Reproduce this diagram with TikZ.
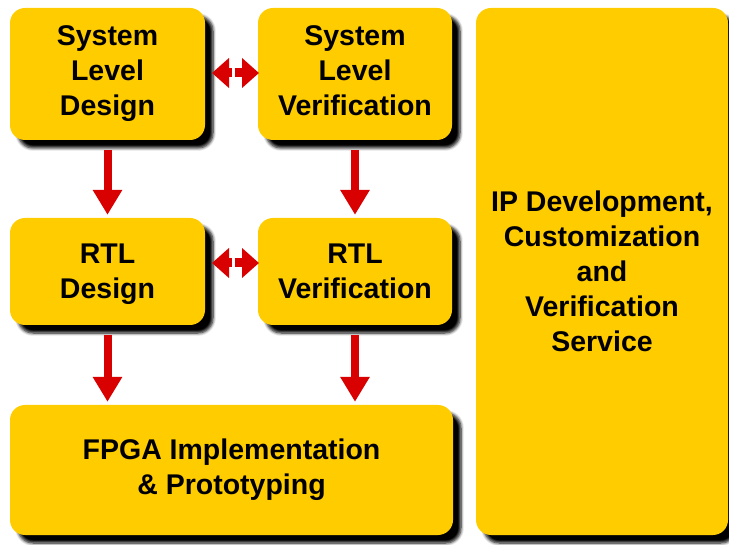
\documentclass[tikz,border=0pt]{standalone}
\usepackage{fontspec}
\setmainfont{Liberation Sans}
\usetikzlibrary{shadows.blur,arrows.meta}
\definecolor{boxyellow}{HTML}{FFCC00}
\definecolor{arrowred}{HTML}{D80000}
\newcommand{\nodepth}[1]{\raisebox{0pt}[\height][0pt]{#1}}
\begin{document}
\begin{tikzpicture}[x=1pt,y=-1pt,
  box/.style={fill=boxyellow, draw=none, rounded corners=15pt, align=center,
    font=\fontsize{28.5}{35}\selectfont\bfseries, inner sep=0pt,
    blur shadow={shadow xshift=8pt, shadow yshift=-8pt, shadow blur radius=3pt, shadow opacity=100, shadow blur steps=6}},
  varrow/.style={draw=arrowred, line width=8pt, -{Triangle[width=28pt,length=25pt]}},
  harrow/.style={draw=arrowred, line width=9pt, -{Triangle[width=29pt,length=17pt]}}]
\useasboundingbox (0,0) rectangle (729,545);
\node[box, minimum width=195pt, minimum height=132pt] (sld) at (107.5,74) {System\\Level\\Design};
\node[box, minimum width=194pt, minimum height=132pt] (slv) at (355,74) {System\\Level\\Verification\vphantom{g}};
\node[box, minimum width=195pt, minimum height=107pt] (rtld) at (107.5,271.5) {RTL\\\nodepth{Design}};
\node[box, minimum width=194pt, minimum height=107pt] (rtlv) at (355,271.5) {RTL\\Verification};
\node[box, minimum width=443pt, minimum height=130pt] (fpga) at (231.5,470) {FPGA Implementation\\\& Prototyping};
\node[box, minimum width=252pt, minimum height=527pt] (ip) at (602,271.5) {IP Development,\\Customization\\and\\Verification\\Service};
% vertical arrows
\coordinate (a1s) at ([yshift=-10pt]sld.south);
\coordinate (a1e) at ([yshift=3pt]rtld.north);
\draw[varrow] (a1s) -- (a1e);
\coordinate (a2s) at ([yshift=-10pt]slv.south);
\coordinate (a2e) at ([yshift=3pt]rtlv.north);
\draw[varrow] (a2s) -- (a2e);
\coordinate (a3s) at ([yshift=-10pt]rtld.south);
\coordinate (a3e) at ([yshift=3pt]fpga.north -| rtld.south);
\draw[varrow] (a3s) -- (a3e);
\coordinate (a4s) at ([yshift=-10pt]rtlv.south);
\coordinate (a4e) at ([yshift=3pt]fpga.north -| rtlv.south);
\draw[varrow] (a4s) -- (a4e);
% double arrows
\coordinate (m1l) at (232,73);
\coordinate (m1r) at (234.5,73);
\coordinate (t1l) at (212,73);
\coordinate (t1r) at (259,73);
\draw[harrow] (m1l) -- (t1l);
\draw[harrow] (m1r) -- (t1r);
\coordinate (m2l) at (232,263);
\coordinate (m2r) at (234.5,263);
\coordinate (t2l) at (212,263);
\coordinate (t2r) at (259,263);
\draw[harrow] (m2l) -- (t2l);
\draw[harrow] (m2r) -- (t2r);
\end{tikzpicture}
\end{document}
